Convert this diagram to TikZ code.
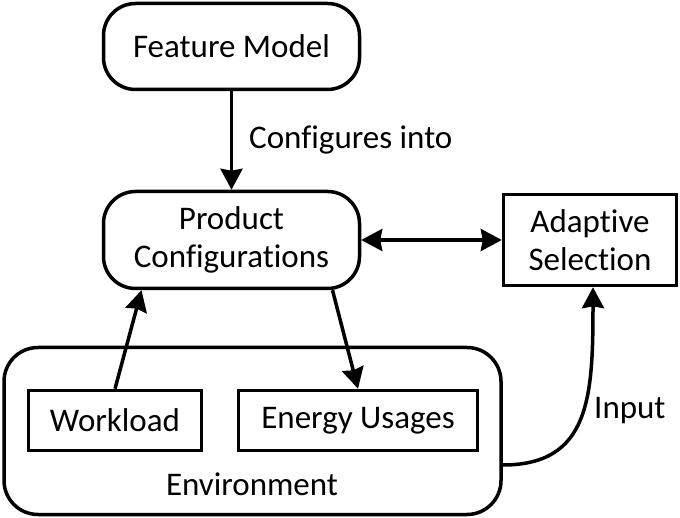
\documentclass[tikz,border=0pt]{standalone}
\usepackage{fontspec}
\setmainfont{Carlito}[Ligatures=NoCommon]
\usetikzlibrary{arrows.meta}

\begin{document}
\begin{tikzpicture}[x=1pt,y=-1pt,
  txt/.style={font=\fontsize{33}{38}\selectfont,inner sep=0pt},
  roundbox/.style={txt,draw,line width=3.5pt,rounded corners=32pt,align=center},
  plainbox/.style={txt,draw,line width=3.5pt,align=center},
  arr/.style={line width=3.5pt,-{Stealth[inset=2pt,length=21pt,width=22pt]}},
  darr/.style={line width=3.5pt,{Stealth[inset=2pt,length=21pt,width=22pt]}-{Stealth[inset=2pt,length=21pt,width=22pt]}}]
\useasboundingbox (0,0) rectangle (680,518);
% Boxes:
\node (fm) [roundbox,minimum width=256pt,minimum height=86pt] at (231.5,46.5) {Feature Model};
\node (prod) [roundbox,minimum width=256pt,minimum height=97pt] at (231.5,240) {Product\\Configurations};
\node (adapt) [plainbox,minimum width=173pt,minimum height=91pt] at (590,240) {Adaptive\\Selection};
\node (env) [draw,line width=3.5pt,rounded corners=34pt,minimum width=497pt,minimum height=167pt] at (252.5,431) {};
\node (work) [plainbox,minimum width=173pt,minimum height=60pt] at (115,420.5) {Workload};
\node (energy) [plainbox,minimum width=239pt,minimum height=60pt] at (358,420.5) {Energy Usages};
\node (envlbl) [txt] at (252,484) {Environment};
% Arrows:
\draw[arr] (fm) -- (prod);
\node (conf) [txt,anchor=base west] at (249,149) {Configures into};
\draw[darr] (prod.east) -- (adapt.west);
\draw[arr] (work.north) -- ([xshift=-90pt]prod.south);
\draw[arr] ([xshift=101pt]prod.south) -- (energy.north);
\draw[arr] ([yshift=-34pt]env.east) .. controls +(87,0) and +(0,110) .. ([xshift=3pt]adapt.south);
\node (inp) [txt,anchor=base west] at (594,418) {Input};
\end{tikzpicture}
\end{document}
